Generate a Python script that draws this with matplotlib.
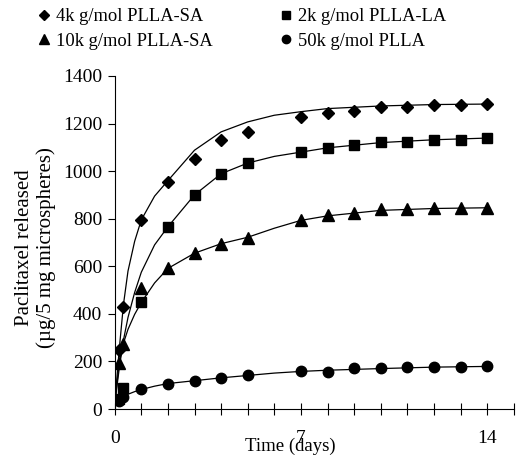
import matplotlib
matplotlib.use("Agg")
import matplotlib.pyplot as plt
from matplotlib.ticker import FixedLocator, MultipleLocator

plt.rcParams['font.family'] = ['Liberation Serif', 'DejaVu Serif']
plt.rcParams['font.size'] = 13.5

# Measured data (time in days, paclitaxel released in ug / 5 mg microspheres)
time_days = [0.17, 0.33, 1, 2, 3, 4, 5, 7, 8, 9, 10, 11, 12, 13, 14]
plla_sa_4k = [250, 428, 795, 955, 1050, 1131, 1164, 1226, 1245, 1253, 1268, 1268, 1279, 1279, 1282]
plla_la_2k = [40, 88, 448, 766, 900, 989, 1034, 1080, 1099, 1111, 1122, 1122, 1133, 1133, 1139]
plla_sa_10k = [193, 275, 510, 591, 655, 693, 720, 793, 815, 825, 840, 840, 844, 844, 846]
plla_50k = [35, 52, 82, 107, 118, 131, 141, 160, 154, 171, 171, 178, 178, 178, 179]

# Fitted curves
fit_time = [0, 0.17, 0.33, 0.5, 0.75, 1, 1.5, 2, 3, 4, 5, 6, 7, 8, 10, 12, 14]
fit_sa_4k = [20, 250, 440, 580, 705, 795, 895, 960, 1088, 1165, 1207, 1235, 1250, 1263, 1274, 1280, 1282]
fit_la_2k = [20, 170, 290, 385, 490, 575, 690, 766, 900, 989, 1034, 1062, 1080, 1098, 1120, 1132, 1139]
fit_sa_10k = [20, 195, 277, 335, 398, 448, 530, 591, 655, 695, 722, 760, 793, 812, 835, 843, 846]
fit_50k = [20, 38, 52, 62, 73, 82, 96, 107, 119, 131, 141, 151, 158, 163, 170, 176, 179]

labels = ["4k g/mol PLLA-SA", "2k g/mol PLLA-LA", "10k g/mol PLLA-SA", "50k g/mol PLLA"]

W, H = 516, 457
fig = plt.figure(figsize=(W / 100, H / 100), dpi=100)
x0, x1 = 114.7, 513.7
y0, y1 = 409, 76
ax = fig.add_axes([x0 / W, 1 - y0 / H, (x1 - x0) / W, (y0 - y1) / H])

lw = 0.9
ax.plot(fit_time, fit_sa_4k, color='black', lw=lw)
ax.plot(fit_time, fit_la_2k, color='black', lw=lw)
ax.plot(fit_time, fit_sa_10k, color='black', lw=lw)
ax.plot(fit_time, fit_50k, color='black', lw=lw)

h1, = ax.plot(time_days, plla_sa_4k, 'D', color='black', ms=6.3, ls='none', label=labels[0])
h2, = ax.plot(time_days, plla_la_2k, 's', color='black', ms=7.5, ls='none', label=labels[1])
h3, = ax.plot(time_days, plla_sa_10k, '^', color='black', ms=8.5, ls='none', label=labels[2])
h4, = ax.plot(time_days, plla_50k, 'o', color='black', ms=7.5, ls='none', label=labels[3])

ax.set_xlim(0, 15)
ax.set_ylim(0, 1400)
ax.spines['top'].set_visible(False)
ax.spines['right'].set_visible(False)
ax.spines['left'].set_linewidth(0.8)
ax.spines['bottom'].set_linewidth(0.8)

ax.xaxis.set_major_locator(FixedLocator([0, 7, 14]))
ax.xaxis.set_minor_locator(MultipleLocator(1))
ax.tick_params(axis='x', which='both', direction='inout', length=8, width=0.8, pad=11)
ax.tick_params(axis='x', which='major', labelsize=14)
ax.yaxis.set_major_locator(MultipleLocator(200))
ax.tick_params(axis='y', direction='out', length=5, width=0.8, pad=4, labelsize=14)

fig.text(290 / W, 1 - 438 / H, "Time (days)", ha='center', va='top', fontsize=13.5)
ax.set_ylabel("Paclitaxel released\n(\u00b5g/5 mg microspheres)", fontsize=15, linespacing=1.15)
ax.yaxis.set_label_coords((56 - x0) / (x1 - x0), 0.485)

fig.legend(handles=[h1, h3, h2, h4], labels=[labels[0], labels[2], labels[1], labels[3]],
           ncol=2, frameon=False, loc='upper left', bbox_to_anchor=(38 / W, 1 - 8 / H),
           borderaxespad=0, borderpad=0,
           fontsize=13.3, handlelength=0.6, handletextpad=0.35, columnspacing=3.7,
           labelspacing=0.42, markerscale=0.8)

fig.savefig("out.png", dpi=100)
